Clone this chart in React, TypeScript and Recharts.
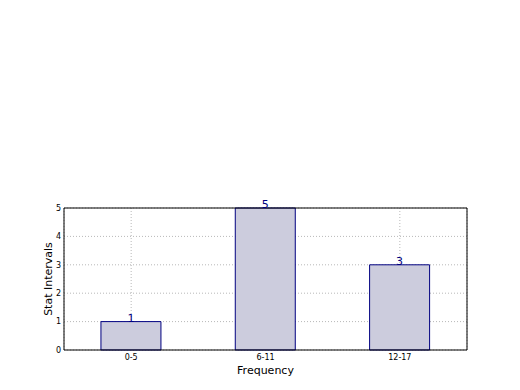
import { BarChart, Bar, XAxis, YAxis, CartesianGrid, LabelList, Label } from "recharts"

const categories = ["0-5", "6-11", "12-17"]
const counts = [1, 5, 3]
const yTicks = [0, 1, 2, 3, 4, 5]

const data = categories.map((c, i) => ({ name: c, value: counts[i] }))

const FONT = "DejaVu Sans, sans-serif"
const NAVY = "#000080"

export default function App() {
  return (
    <div style={{ position: "absolute", left: 0, top: 0, width: 520, height: 390, background: "#fff", fontFamily: FONT }}>
      <BarChart
        width={520}
        height={390}
        data={data}
        margin={{ top: 207, right: 52, bottom: 20, left: 34 }}
        barCategoryGap="27.5%"
      >
        <CartesianGrid stroke="#b8b8b8" strokeDasharray="1 2" />
        <XAxis
          dataKey="name"
          height={20}
          stroke="#000"
          tickLine={false}
          tickSize={0}
          tickMargin={4}
          tick={{ fontSize: 8, fill: "#000", fontFamily: FONT }}
        >
          <Label value="Frequency" position="insideBottom" offset={-4} style={{ fontSize: 11, fill: "#000", fontFamily: FONT }} />
        </XAxis>
        <XAxis xAxisId="top" dataKey="name" orientation="top" height={1} stroke="#000" tick={false} tickLine={false} />
        <YAxis
          domain={[0, 5]}
          ticks={yTicks}
          width={30}
          stroke="#000"
          tickLine={false}
          tickSize={0}
          tickMargin={3}
          tick={{ fontSize: 8, fill: "#000", fontFamily: FONT }}
        >
          <Label value="Stat Intervals" angle={-90} position="insideLeft" offset={14} style={{ fontSize: 11, fill: "#000", fontFamily: FONT, textAnchor: "middle" }} />
        </YAxis>
        <YAxis yAxisId="right" orientation="right" domain={[0, 5]} width={1} stroke="#000" tick={false} tickLine={false} />
        <Bar dataKey="value" fill="#ccccdd" stroke={NAVY} strokeWidth={1} isAnimationActive={false}>
          <LabelList dataKey="value" position="top" offset={0} style={{ fontSize: 11, fill: NAVY, fontFamily: FONT }} />
        </Bar>
      </BarChart>
    </div>
  )
}
